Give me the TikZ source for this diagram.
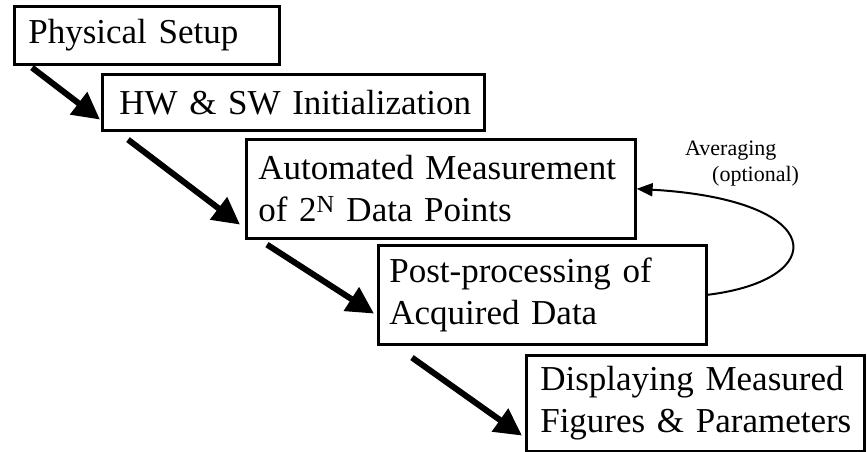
\documentclass[tikz,border=0pt]{standalone}
\usepackage{fontspec}
\setmainfont{Liberation Serif}
\usetikzlibrary{arrows.meta}
\begin{document}
\begin{tikzpicture}[x=1pt,y=-1pt,
  box/.style={draw, line width=2.6pt, anchor=north west, inner ysep=0pt, align=left, font=\fontsize{35}{42}\selectfont},
  flow/.style={line width=6pt, -{Triangle[length=27pt,width=27pt]}},
  loopline/.style={line width=2pt, -{Triangle[length=16pt,width=13pt]}},
  lab/.style={font=\fontsize{22}{26}\selectfont, align=left, anchor=north west, inner sep=0pt}]
\useasboundingbox[fill=white] (0,0) rectangle (867,452);
\node[box, inner xsep=14pt, text width=237pt, minimum height=58pt] (b1) at (13,5) {\mbox{Physical Setup}};
\node[box, inner xsep=17pt, text width=348pt, minimum height=56pt] (b2) at (101,73) {\mbox{HW \& SW Initialization}};
\node[box, inner xsep=12pt, text width=365pt, minimum height=99pt] (b3) at (245,138) {\mbox{Automated Measurement}\\\mbox{of 2\textsuperscript{N} Data Points}};
\node[box, inner xsep=11pt, text width=306pt, minimum height=99pt] (b4) at (377,244) {\mbox{Post-processing of}\\\mbox{Acquired Data}};
\node[box, inner xsep=14pt, text width=310pt, minimum height=96pt] (b5) at (525,354) {\mbox{Displaying Measured}\\\mbox{Figures \& Parameters}};
\node[lab] (avg) at (685,141) {Averaging\\\hspace{27pt}(optional)};
\draw[flow] ([shift={(19,2)}]b1.south west) -- ([shift={(-1,-12)}]b2.south west);
\draw[flow] ([shift={(27,8)}]b2.south west) -- ([shift={(-5,-15)}]b3.south west);
\draw[flow] ([shift={(22,5)}]b3.south west) -- ([shift={(-3,-32)}]b4.south west);
\draw[flow] ([shift={(35,12)}]b4.south west) -- ([shift={(-3,-17)}]b5.south west);
\draw[loopline] (b4.east) .. controls (830,280) and (830,200) .. (b3.east);
\end{tikzpicture}
\end{document}
